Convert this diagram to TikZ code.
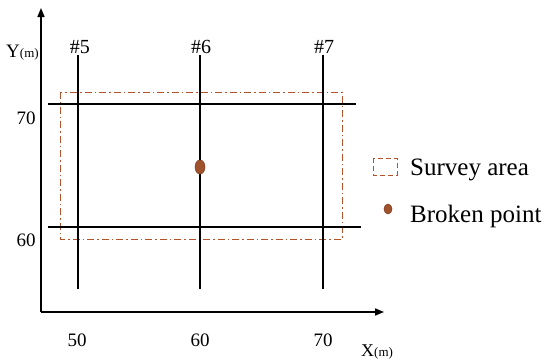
\documentclass[tikz,border=0pt]{standalone}
\usepackage{fontspec}
\setmainfont{Liberation Serif}
\usetikzlibrary{arrows.meta,shapes.geometric}
\definecolor{rust}{HTML}{B4532A}
\definecolor{ptfill}{HTML}{A0522D}
\begin{document}
\begin{tikzpicture}[x=1pt,y=-1pt,
  axisline/.style={line width=1.6pt,-{Triangle[length=9pt,width=7pt]}},
  gridline/.style={line width=1.4pt},
  area/.style={draw=rust,line width=0.9pt,dash pattern=on 7pt off 3pt on 1.5pt off 3pt},
  legarea/.style={draw=rust,line width=0.9pt,dash pattern=on 5pt off 3pt},
  lbl/.style={font=\fontsize{19}{21}\selectfont,inner sep=0pt},
  leg/.style={font=\fontsize{25}{28}\selectfont,inner sep=0pt,anchor=base west},
  brk/.style={draw=rust!70!black,fill=ptfill,ellipse,inner sep=0pt,line width=0.5pt}]
\useasboundingbox (0,0) rectangle (550,364);
% axes
\coordinate (O) at (41,312);
\coordinate (Ytip) at (41,8);
\coordinate (Xtip) at (384,312);
\draw[axisline] (O) -- (Ytip);
\draw[axisline] (O) -- (Xtip);
% survey area
\draw[area] (60,92) rectangle (342,239);
% vertical lines
\coordinate (v5t) at (78,55); \coordinate (v5b) at (78,289);
\coordinate (v6t) at (200,55); \coordinate (v6b) at (200,289);
\coordinate (v7t) at (323,55); \coordinate (v7b) at (323,289);
\draw[gridline] (v5t) -- (v5b);
\draw[gridline] (v6t) -- (v6b);
\draw[gridline] (v7t) -- (v7b);
% horizontal lines
\coordinate (h1l) at (48,104); \coordinate (h1r) at (356,104);
\coordinate (h2l) at (48,227); \coordinate (h2r) at (361,227);
\draw[gridline] (h1l) -- (h1r);
\draw[gridline] (h2l) -- (h2r);
% broken point
\node[brk,minimum width=10pt,minimum height=14pt] (bp) at (200,167) {};
% labels
\node[lbl,font=\fontsize{20}{22}\selectfont,anchor=base] (l5) at (80,53) {\#5};
\node[lbl,font=\fontsize{20}{22}\selectfont,anchor=base] (l6) at (201,53) {\#6};
\node[lbl,font=\fontsize{20}{22}\selectfont,anchor=base] (l7) at (324,53) {\#7};
\node[lbl,anchor=base west] (ylab) at (6,57) {Y{\fontsize{13}{15}\selectfont(m)}};
\node[lbl,anchor=base west,font=\fontsize{18}{20}\selectfont] (xlab) at (361,356) {X{\fontsize{13}{15}\selectfont(m)}};
\node[lbl] (y70) at (26,118) {70};
\node[lbl] (y60) at (26,240) {60};
\node[lbl] (x50) at (77,340) {50};
\node[lbl] (x60) at (200,340) {60};
\node[lbl] (x70) at (323,340) {70};
% legend
\draw[legarea] (373,158) rectangle (397,175);
\node[leg] (leg1) at (410,175) {Survey area};
\node[brk,minimum width=8pt,minimum height=10pt] (legpt) at (388,209) {};
\node[leg] (leg2) at (410,222) {Broken point};
\end{tikzpicture}
\end{document}
